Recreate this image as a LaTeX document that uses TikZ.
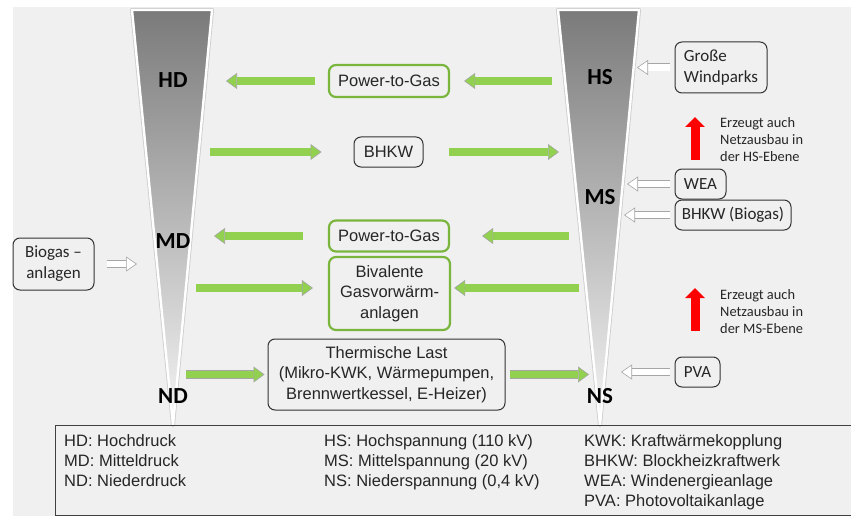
\documentclass[tikz,border=0pt]{standalone}
\usepackage{fontspec}
\setmainfont{Liberation Sans}
\newfontfamily\calfont[Ligatures=TeX]{Carlito}
\usetikzlibrary{arrows.meta,positioning,calc}

\definecolor{bggray}{HTML}{F0F0F0}
\definecolor{arrowgreen}{HTML}{92D050}
\definecolor{boxgreen}{HTML}{7AB53E}
\definecolor{textgray}{HTML}{262626}

\tikzset{
  level/.style={font=\calfont\bfseries\fontsize{23}{23}\selectfont},
  gbox/.style={draw=boxgreen, line width=2.2pt, rounded corners=7pt, align=center,
    font=\fontsize{16.5}{20.5}\selectfont, text=textgray, inner sep=0pt},
  kbox/.style={draw=black!80, line width=1pt, rounded corners=7pt, align=center,
    font=\fontsize{16.5}{20.5}\selectfont, text=textgray, inner sep=0pt},
  cbox/.style={kbox, font=\calfont\fontsize{17}{21}\selectfont},
  garrow/.style={draw=gray!70, line width=0.6pt, double=arrowgreen, double distance=7.4pt,
    -{Triangle[length=11pt, width=16pt, fill=arrowgreen, line width=0.6pt]}},
  warrow/.style={draw=gray!70, line width=0.6pt, double=white, double distance=6.8pt,
    -{Triangle[length=11pt, width=15pt, fill=white, line width=0.6pt]}},
  rarrow/.style={draw=red, line width=9pt, -{Triangle[length=10pt, width=19pt]}},
  note/.style={font=\calfont\fontsize{14.4}{17}\selectfont, text=textgray, align=left,
    anchor=north west, inner sep=0pt},
  legend/.style={font=\fontsize{16.5}{20}\selectfont, text=textgray, align=left,
    anchor=north west, inner sep=0pt}
}

\begin{document}
\begin{tikzpicture}[x=1pt, y=-1pt]
    \useasboundingbox (0,0) rectangle (851,516);
    \fill[bggray] (13,7) rectangle (851,516);

    % gas and power funnels
    \foreach \a/\b/\c in {132/212/173, 558/639/600} {
        \draw[gray!40, line width=4pt, line join=round] (\a,10) -- (\b,10) -- (\c,425) -- cycle;
        \shade[top color=black!52, bottom color=white!96!black] (\a,10) -- (\b,10) -- (\c,425) -- cycle;
        \draw[white, line width=2.4pt, line join=round] (\a,10) -- (\b,10) -- (\c,425) -- cycle;
    }

    % levels
    \node[level] (hd) at (173,80) {HD};
    \node[level] (md) at (173,241) {MD};
    \node[level] (nd) at (173,396) {ND};
    \node[level] (hs) at (600,77) {HS};
    \node[level] (ms) at (600,197) {MS};
    \node[level] (ns) at (600,396) {NS};

    % couplings
    \node[gbox, minimum width=120pt, minimum height=32pt] (p2gtop) at (389,81) {Power-to-Gas};
    \node[kbox, minimum width=69pt, minimum height=30pt] (bhkw) at (388.5,152) {BHKW};
    \node[gbox, minimum width=120pt, minimum height=31pt] (p2gmid) at (389,236) {Power-to-Gas};
    \node[gbox, minimum width=121pt, minimum height=73pt] (biv) at (389.5,293.5)
        {Bivalente\\Gasvorwärm-\\anlagen};
    \node[kbox, minimum width=237pt, minimum height=71pt] (therm) at (386.5,374.5)
        {Thermische Last\\(Mikro-KWK, Wärmepumpen,\\Brennwertkessel, E-Heizer)};

    % producers
    \node[cbox, align=left, minimum width=92pt, minimum height=51pt] (wind) at (721,67.5) {Große\\Windparks};
    \node[cbox, minimum width=51pt, minimum height=30pt] (wea) at (700.5,184) {WEA};
    \node[cbox, minimum width=116pt, minimum height=30pt] (bhkwbio) at (733,215) {BHKW (Biogas)};
    \node[cbox, minimum width=45pt, minimum height=30pt] (pva) at (697.5,372) {PVA};
    \node[cbox, minimum width=81pt, minimum height=52pt] (biogas) at (53.5,264) {Biogas –\\anlagen};

    % free arrow ends
    \coordinate (hdin) at (226,81);
    \coordinate (hsout) at (552,81);
    \coordinate (hdout) at (210,152);
    \coordinate (hsin) at (559,152);
    \coordinate (mdin) at (214,236);
    \coordinate (msout) at (569,236);
    \coordinate (mdout) at (196,288);
    \coordinate (nsout) at (579,288);
    \coordinate (ndout) at (186,374.5);
    \coordinate (nsin) at (589,374.5);
    \coordinate (windin) at (637,67.5);
    \coordinate (weain) at (627,184);
    \coordinate (bhkwin) at (624,215);
    \coordinate (pvain) at (621,372);
    \coordinate (biogasin) at (137,264);
    \coordinate (up1s) at (695,160);
    \coordinate (up1e) at (695,117);
    \coordinate (up2s) at (695,331);
    \coordinate (up2e) at (695,288);

    \draw[garrow, shorten <=13pt] (p2gtop.west) -- (hdin);
    \draw[garrow, shorten >=14pt] (hsout) -- (p2gtop.east);
    \draw[garrow, shorten >=32pt] (hdout) -- (bhkw.west);
    \draw[garrow, shorten <=25pt] (bhkw.east) -- (hsin);
    \draw[garrow, shorten <=25pt] (p2gmid.west) -- (mdin);
    \draw[garrow, shorten >=32pt] (msout) -- (p2gmid.east);
    \draw[garrow, shorten >=15pt] (mdout) -- ([yshift=5.5pt]biv.west);
    \draw[garrow, shorten >=3pt] (nsout) -- ([yshift=5.5pt]biv.east);
    \draw[garrow, shorten >=3pt] (ndout) -- (therm.west);
    \draw[garrow, shorten <=4pt] (therm.east) -- (nsin);

    \draw[warrow, shorten <=5pt] (wind.west) -- (windin);
    \draw[warrow, shorten <=5pt] (wea.west) -- (weain);
    \draw[warrow, shorten <=5pt] (bhkwbio.west) -- (bhkwin);
    \draw[warrow, shorten <=5pt] (pva.west) -- (pvain);
    \draw[warrow, shorten <=12pt] (biogas.east) -- (biogasin);

    \draw[rarrow] (up1s) -- (up1e);
    \draw[rarrow] (up2s) -- (up2e);
    \node[note] (note1) at (720,117) {Erzeugt auch\\Netzausbau in\\der HS-Ebene};
    \node[note] (note2) at (720,289) {Erzeugt auch\\Netzausbau in\\der MS-Ebene};

    % legend
    \draw[black!75, line width=1pt] (55,425) rectangle (870,515.5);
    \node[legend] (leg1) at (64,434.5) {HD: Hochdruck\\MD: Mitteldruck\\ND: Niederdruck};
    \node[legend] (leg2) at (324,434.5) {HS: Hochspannung (110 kV)\\MS: Mittelspannung (20 kV)\\NS: Niederspannung (0,4 kV)};
    \node[legend] (leg3) at (584,434.5) {KWK: Kraftwärmekopplung\\BHKW: Blockheizkraftwerk\\WEA: Windenergieanlage\\PVA: Photovoltaikanlage};
\end{tikzpicture}
\end{document}
